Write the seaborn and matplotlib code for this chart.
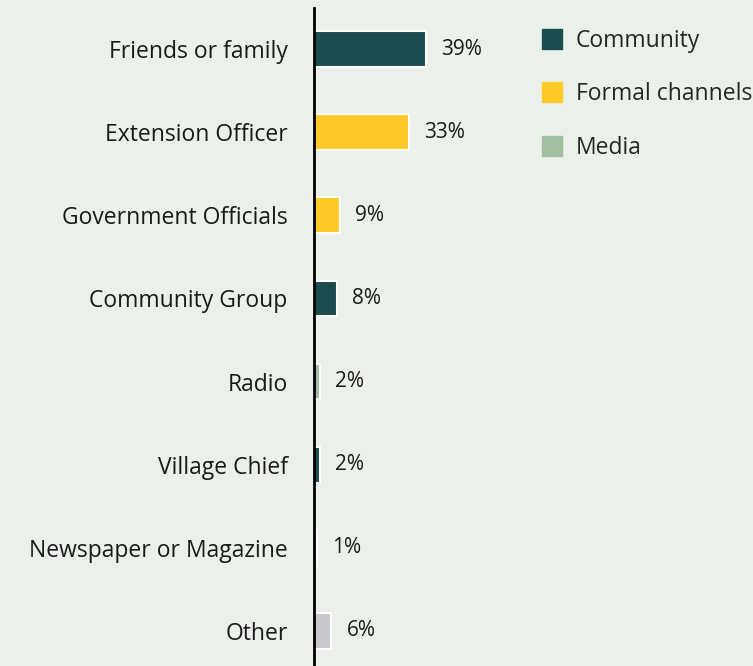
import matplotlib
matplotlib.use("Agg")
import matplotlib.pyplot as plt
from matplotlib.lines import Line2D
import seaborn as sns
import pandas as pd

# Information sources and their share of respondents (%)
sources = ["Friends or family", "Extension Officer", "Government Officials",
           "Community Group", "Radio", "Village Chief",
           "Newspaper or Magazine", "Other"]
shares = [39, 33, 9, 8, 2, 2, 1, 6]
groups = ["Community", "Formal channels", "Formal channels", "Community",
          "Media", "Community", "Media", "Other"]

legend_groups = ["Community", "Formal channels", "Media"]
palette = {"Community": "#1B4D4F", "Formal channels": "#FFCA28",
           "Media": "#A3BDA0", "Other": "#C8C8CC"}
bg = "#ECF0EB"

df = pd.DataFrame({"source": sources, "share": shares, "group": groups})

sns.set_theme(style="white")
plt.rcParams["font.family"] = ["Open Sans", "DejaVu Sans"]

fig = plt.figure(figsize=(7.53, 6.66), dpi=100, facecolor=bg)
W, H = 753, 666
x0, x1 = 314, 560
y_top, y_bot = 7.5, 672.5
ax = fig.add_axes([x0 / W, 1 - y_bot / H, (x1 - x0) / W, (y_bot - y_top) / H])
ax.set_facecolor(bg)
ax.patch.set_alpha(0)

sns.barplot(data=df, y="source", x="share", hue="group", palette=palette,
            saturation=1, dodge=False, width=0.43, edgecolor="white",
            linewidth=1.5, legend=False, ax=ax, orient="h")

ax.set_xlim(0, (x1 - x0) / 2.872)
ax.set_ylim(7.5, -0.5)
for c in ax.containers:
    ax.bar_label(c, labels=[f"{v:.0f}%" if v > 0 else "" for v in c.datavalues],
                 padding=11, fontsize=15, color="#1a1a1a")

ax.set_xlabel("")
ax.set_ylabel("")
ax.set_xticks([])
ax.tick_params(axis="y", length=0, pad=19, labelsize=16.5, labelcolor="#1a1a1a")
for s in ["top", "right", "bottom"]:
    ax.spines[s].set_visible(False)
ax.spines["left"].set_color("black")
ax.spines["left"].set_linewidth(2)

handles = [Line2D([], [], marker="s", linestyle="none", markersize=14,
                  markerfacecolor=palette[g], markeredgecolor=palette[g])
           for g in legend_groups]
fig.legend(handles, legend_groups, loc="upper left",
           bbox_to_anchor=(530 / W, 1 - 20 / H), frameon=False,
           fontsize=16.5, labelspacing=1.28, handletextpad=0.5,
           handlelength=1.1, borderaxespad=0)

fig.savefig("out.png", dpi=100, facecolor=bg)
